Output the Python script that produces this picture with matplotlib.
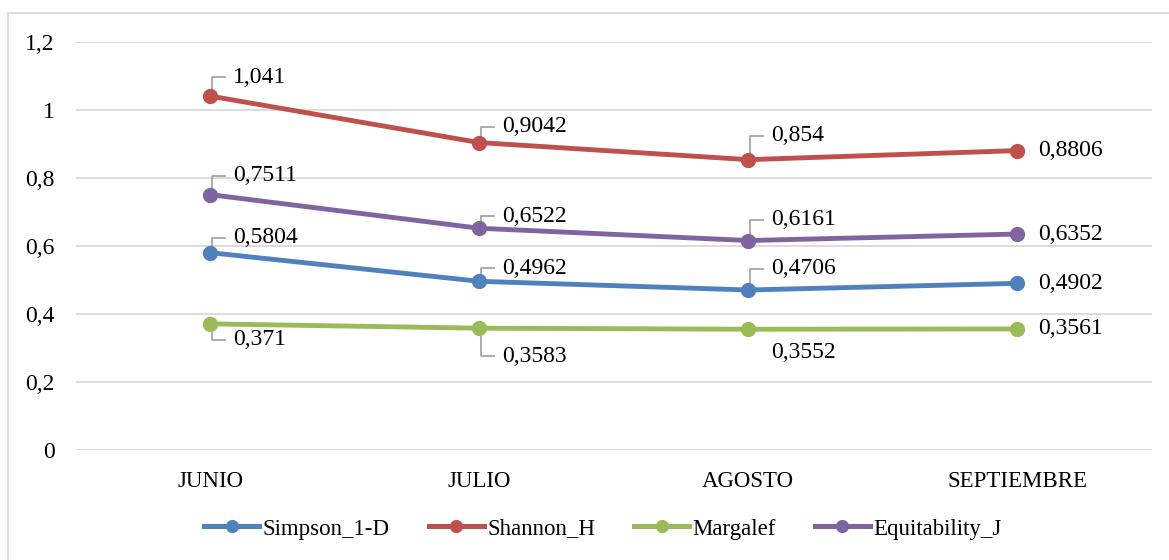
import matplotlib
matplotlib.use("Agg")
import matplotlib.pyplot as plt
from matplotlib.patches import Rectangle
from matplotlib.lines import Line2D

plt.rcParams["font.family"] = ["Liberation Serif", "DejaVu Serif"]

months = ["JUNIO", "JULIO", "AGOSTO", "SEPTIEMBRE"]
simpson = [0.5804, 0.4962, 0.4706, 0.4902]
shannon = [1.041, 0.9042, 0.854, 0.8806]
margalef = [0.371, 0.3583, 0.3552, 0.3561]
equit = [0.7511, 0.6522, 0.6161, 0.6352]
yticks = [0, 0.2, 0.4, 0.6, 0.8, 1.0, 1.2]
ytick_labels = ["0", "0,2", "0,4", "0,6", "0,8", "1", "1,2"]

series = [
    ("Simpson_1-D", simpson, "#4F81BD"),
    ("Shannon_H", shannon, "#C0504D"),
    ("Margalef", margalef, "#9BBB59"),
    ("Equitability_J", equit, "#8064A2"),
]

# label vertical offset (image px, + is down) for the first three months
offsets = {
    "Simpson_1-D": [-15, -13, -21],
    "Shannon_H": [-19, -16, -24],
    "Margalef": [16, 28, 23],
    "Equitability_J": [-19, -12, -21],
}


def fmt(v):
    s = f"{v:.4f}".rstrip("0").rstrip(".")
    return s.replace(".", ",")


W, H = 1169, 560
fig = plt.figure(figsize=(W / 100, H / 100), dpi=100)
ax = fig.add_axes([75.5 / W, 110 / H, (1152 - 75.5) / W, 408 / H])
ax.set_xlim(-0.5, 3.5)
ax.set_ylim(0, 1.2)

for name, vals, col in series:
    ax.plot(range(len(vals)), vals, color=col, lw=3.5, marker="o", ms=10,
            label=name, solid_capstyle="round", zorder=3)

ax.set_yticks(yticks)
ax.set_yticklabels(ytick_labels)
ax.set_xticks(range(len(months)))
ax.set_xticklabels(months)
ax.tick_params(axis="y", length=0, pad=15, labelsize=17)
ax.tick_params(axis="x", length=0, pad=15, labelsize=16.5)
ax.grid(axis="y", color="#D9D9D9", lw=1.3)
ax.set_axisbelow(True)
for sp in ax.spines.values():
    sp.set_visible(False)

fig.canvas.draw()
to_disp = ax.transData.transform
to_data = ax.transData.inverted().transform


def shifted(x, v, dx, dy):
    X, Y = to_disp((x, v))
    return to_data((X + dx, Y + dy))


for name, vals, col in series:
    for i, v in enumerate(vals):
        if i == len(vals) - 1:
            tx, ty = shifted(i, v, 21, 0)
            ax.text(tx, ty, fmt(v), ha="left", va="center", fontsize=17)
            continue
        dy = -offsets[name][i]
        tx, ty = shifted(i, v, 23, dy)
        ax.text(tx, ty, fmt(v), ha="left", va="center", fontsize=17)
        if name == "Margalef" and i == 2:
            continue
        sgn = 1 if dy > 0 else -1
        p0 = shifted(i, v, 2, sgn * 7)
        p1 = shifted(i, v, 2, dy)
        p2 = shifted(i, v, 15, dy)
        ax.plot([p0[0], p1[0], p2[0]], [p0[1], p1[1], p2[1]],
                color="#A6A6A6", lw=1.3, zorder=2)

handles = [Line2D([], [], color=c, lw=3.6, marker="o", ms=8.5) for _, _, c in series]
fig.legend(handles, [s[0] for s in series], loc="center", ncol=4,
           bbox_to_anchor=(603 / W, 1 - 529 / H), frameon=False,
           fontsize=16.5, handlelength=2.4, handletextpad=0.15, columnspacing=1.7)

fig.add_artist(Rectangle((8 / W, -0.05), 1.2, (1 - 13 / H) + 0.05,
                         transform=fig.transFigure, fill=False,
                         edgecolor="#D9D9D9", lw=1.3, clip_on=False))

fig.savefig("out.png", dpi=100)
